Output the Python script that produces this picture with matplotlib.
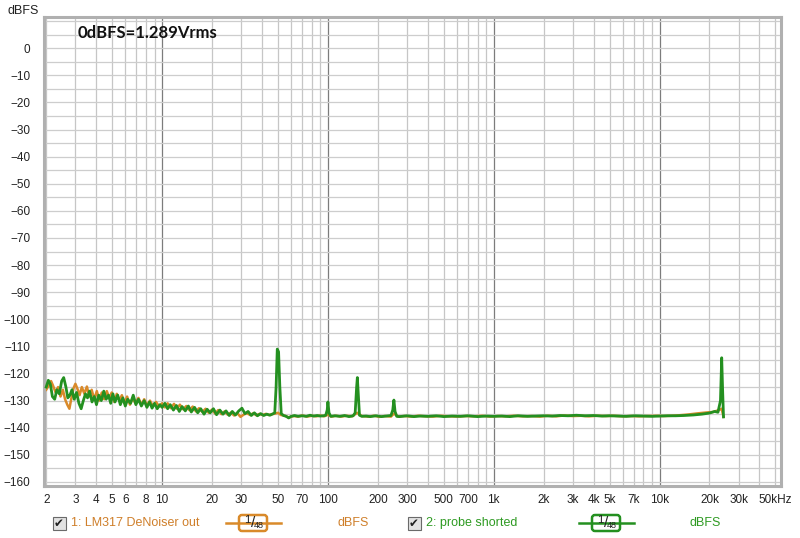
import matplotlib.pyplot as plt
import numpy as np
from matplotlib.patches import FancyBboxPatch, Rectangle
from matplotlib.ticker import NullLocator

plt.rcParams['font.family'] = ['Liberation Sans Narrow', 'Liberation Sans', 'DejaVu Sans']

# --- data: (Hz, dBFS) ---
green_pts = [
    (2.0, -125), (2.06, -122.5), (2.12, -124), (2.18, -128.5), (2.25, -129.5), (2.32, -126),
    (2.4, -127.5), (2.48, -122.8), (2.55, -121.5), (2.63, -125), (2.7, -129), (2.78, -128),
    (2.86, -126), (2.95, -129.5), (3.05, -127), (3.15, -131), (3.25, -133), (3.35, -130),
    (3.45, -127.5), (3.55, -129), (3.65, -126.5), (3.78, -130.5), (3.9, -128.5), (4.02, -131.5),
    (4.15, -128), (4.3, -130), (4.45, -126.5), (4.6, -129.5), (4.75, -128), (4.9, -131),
    (5.05, -127.5), (5.2, -130.5), (5.4, -128), (5.6, -131.5), (5.8, -129), (6.0, -132),
    (6.2, -129.5), (6.45, -131), (6.7, -128), (6.95, -131.5), (7.2, -129.5), (7.5, -132),
    (7.8, -130), (8.1, -132.5), (8.4, -130.5), (8.7, -132.8), (9.0, -131), (9.35, -133),
    (9.7, -131.5), (10, -132.5),
    (10.4, -131), (10.8, -133), (11.2, -131.5), (11.7, -133.5), (12.2, -131.8), (12.7, -134),
    (13.2, -132.2), (13.8, -133.8), (14.4, -132), (15, -134.2), (15.7, -132.5), (16.4, -134.5),
    (17.1, -133), (17.9, -135), (18.7, -133.2), (19.5, -134.5), (20.4, -133), (21.3, -135.2),
    (22.3, -133.5), (23.3, -135), (24.3, -133.8), (25.4, -135.5), (26.5, -134), (27.7, -135.3),
    (29, -133.8), (30.3, -132.8), (31.6, -134.8), (33, -134), (34.5, -135.5), (36, -134.5),
    (37.6, -135.6), (39.3, -134.8), (41, -135.5), (42.8, -135), (44.7, -135.4), (46.5, -134.9),
    (47.8, -134.5), (48.7, -125), (49.5, -111), (50.4, -112), (51.3, -125), (52.3, -134.8),
    (54, -135.5), (56, -135.8), (58, -136.4), (60, -135.8), (63, -135.5), (66, -135.8),
    (70, -135.6), (74, -135.8), (78, -135.4), (82, -135.7), (86, -135.5), (90, -135.7),
    (94, -135.6), (97, -135.4), (99, -133.5), (100, -130.5), (101.5, -134.5),
    (104, -135.8), (110, -135.6), (118, -135.8), (126, -135.5), (134, -135.9), (142, -135.6),
    (146, -134.5), (149, -125), (150.5, -121.5), (152, -126), (155, -135.4), (160, -135.8),
    (170, -135.7), (180, -135.9), (195, -135.6), (210, -135.9),
    (225, -135.7), (240, -135.5), (246, -133.5), (250, -129.8), (254, -134), (260, -135.8),
    (270, -135.9), (300, -135.6), (330, -135.9), (360, -135.7), (400, -135.8), (450, -135.6),
    (500, -135.9), (560, -135.7), (630, -135.8), (700, -135.6),
    (800, -135.9), (900, -135.7), (1000, -135.8), (1120, -135.7), (1250, -135.9),
    (1400, -135.6), (1600, -135.8), (1800, -135.7), (2000, -135.6), (2250, -135.7),
    (2500, -135.5), (2800, -135.6), (3150, -135.4), (3550, -135.6),
    (4000, -135.5), (4500, -135.7), (5000, -135.6), (5600, -135.7), (6300, -135.8),
    (7100, -135.6), (8000, -135.7), (9000, -135.8), (10000, -135.7), (11200, -135.6),
    (12500, -135.6), (14000, -135.5), (16000, -135.3),
    (18000, -135.0), (20000, -134.6), (21500, -134.0), (22500, -134.3), (23300, -130),
    (23700, -114.2), (24000, -126), (24300, -136),
]

orange_pts = [
    (2.0, -126), (2.07, -124.5), (2.14, -122.8), (2.2, -124.5), (2.28, -127), (2.36, -125),
    (2.44, -128.5), (2.52, -126), (2.6, -129.5), (2.68, -131.5), (2.76, -133), (2.84, -129),
    (2.92, -125.5), (3.0, -123.8), (3.08, -125.5), (3.18, -128), (3.28, -125), (3.4, -127.5),
    (3.52, -124.8), (3.64, -128.5), (3.76, -126), (3.9, -129.5), (4.04, -126.5), (4.18, -130),
    (4.33, -127), (4.48, -129.5), (4.64, -126.5), (4.8, -129), (4.97, -127), (5.15, -130.5),
    (5.33, -127.5), (5.52, -130), (5.72, -128), (5.93, -131), (6.15, -128.5), (6.4, -131.5),
    (6.65, -129), (6.9, -131), (7.2, -129), (7.5, -131.5), (7.8, -129.5), (8.1, -131.8),
    (8.45, -130), (8.8, -132), (9.2, -130.5), (9.6, -132.2), (10, -131),
    (10.4, -132.5), (10.8, -131), (11.3, -132.8), (11.8, -131.2), (12.3, -133), (12.8, -131.5),
    (13.4, -133.2), (14, -132), (14.6, -133.5), (15.3, -132.2), (16, -134), (16.7, -132.8),
    (17.5, -134.2), (18.3, -133), (19.1, -134.5), (20, -133.3), (20.9, -134.8), (21.8, -133.5),
    (22.8, -135), (23.8, -134), (24.9, -135.2), (26, -134.4), (27.2, -135.5), (28.4, -134.6),
    (29.7, -136), (31, -135.2), (32.4, -134.6), (33.9, -135.3), (35.4, -134.7), (37, -135.4),
    (38.7, -134.9), (40.4, -135.3), (42.2, -134.9), (44.1, -135.3), (46, -135), (48, -134.8),
    (50, -134.5), (52, -135.3), (55, -135.6), (58, -136.2), (62, -135.7),
    (66, -135.9), (70, -135.5), (75, -135.9), (80, -135.6), (85, -135.8), (90, -135.5),
    (95, -135.8), (100, -135.2), (105, -135.9), (112, -135.6), (120, -135.9), (130, -135.6),
    (140, -135.8), (150, -134.5), (160, -135.7), (175, -135.9), (190, -135.6), (205, -136),
    (220, -135.7), (240, -135.9), (250, -134.8), (265, -135.9), (290, -135.7), (320, -135.9),
    (350, -135.6), (390, -135.8), (430, -135.9), (480, -135.6), (540, -135.8), (600, -135.9),
    (680, -135.7), (760, -135.8), (850, -135.6), (950, -135.9),
    (1060, -135.7), (1180, -135.8), (1320, -135.6), (1500, -135.8), (1700, -135.7),
    (1900, -135.9), (2120, -135.6), (2380, -135.8), (2650, -135.5), (3000, -135.7),
    (3350, -135.6), (3750, -135.8), (4200, -135.6), (4750, -135.7),
    (5300, -135.6), (6000, -135.8), (6700, -135.7), (7500, -135.8), (8500, -135.7),
    (9500, -135.6), (10600, -135.7), (11800, -135.6), (13200, -135.4), (15000, -135.1),
    (17000, -134.7), (19000, -134.4), (21000, -134.2),
    (22800, -133.5), (23700, -133), (24300, -136),
]
green_f, green_db = zip(*green_pts)
orange_f, orange_db = zip(*orange_pts)

xticks = [2, 3, 4, 5, 6, 8, 10, 20, 30, 50, 70, 100, 200, 300, 500, 700, 1000, 2000, 3000,
          4000, 5000, 7000, 10000, 20000, 30000, 50000]
xlabels = ['2', '3', '4', '5', '6', '8', '10', '20', '30', '50', '70', '100', '200', '300',
           '500', '700', '1k', '2k', '3k', '4k', '5k', '7k', '10k', '20k', '30k', '50kHz']
yticks = list(range(0, -161, -10))

ORANGE = '#d98a2a'
GREEN = '#249020'
ORANGE_TXT = '#cf7f2a'
GREEN_TXT = '#2e9a22'

fig = plt.figure(figsize=(8, 5.38), dpi=100)
ax = fig.add_axes([44 / 800, 52 / 538, 737 / 800, 469 / 538])
ax.set_xscale('log')
ax.set_xlim(1.94, 54000)
ax.set_ylim(-161.5, 11.5)

# grid
for dec in [1, 10, 100, 1000, 10000]:
    for m in range(1, 10):
        f = dec * m
        if f < 2 or f > 50000:
            continue
        if m == 1:
            ax.axvline(f, color='#7c7c7c', lw=0.9, zorder=0)
        else:
            ax.axvline(f, color='#c6c6c6', lw=0.9, zorder=0)
for v in range(-160, 11, 5):
    ax.axhline(v, color='#cdcdcd', lw=0.9, zorder=0)

ax.plot(orange_f, orange_db, color=ORANGE, lw=1.8, zorder=2)
ax.plot(green_f, green_db, color=GREEN, lw=2.0, zorder=3)

ax.xaxis.set_minor_locator(NullLocator())
ax.set_xticks(xticks)
ax.set_xticklabels(xlabels)
ax.set_yticks(yticks)
ax.tick_params(length=0, labelsize=8.5, colors='#222222', pad=10)
ax.tick_params(axis='x', pad=6)
for sp in ax.spines.values():
    sp.set_color('#b0b0b0')
    sp.set_linewidth(2.2)

ax.text(0.045, 0.966, '0dBFS=1.289Vrms', transform=ax.transAxes, fontsize=12,
        fontweight='bold', family=['Lato', 'DejaVu Sans'], color='#111111', va='center')
fig.text(8 / 800, 1 - 11 / 538, 'dBFS', fontsize=9, color='#222222', va='center')

# legend row drawn in pixel coordinates
lg = fig.add_axes([0, 0, 1, 1], zorder=-1)
lg.set_xlim(0, 800)
lg.set_ylim(538, 0)
lg.axis('off')
ly = 523


def item(xc, cx, label, lx, col, tcol):
    lg.add_patch(Rectangle((xc - 6.5, ly - 6.5), 13, 13, facecolor='#e2e2e2', edgecolor='#6a6a6a', lw=0.8))
    lg.text(xc, ly, '\u2714', fontsize=8.5, ha='center', va='center', family='DejaVu Sans', color='#202020')
    lg.text(xc + 12, ly, label, fontsize=9, va='center', color=tcol)
    lg.plot([cx - 27, cx + 28], [ly, ly], color=col, lw=1.8)
    lg.add_patch(FancyBboxPatch((cx - 14, ly - 8), 28, 16, boxstyle='round,pad=0,rounding_size=3',
                                facecolor='white', edgecolor=col, lw=1.8))
    lg.text(cx - 6, ly - 3, '1', fontsize=8, ha='center', va='center', color='#222222')
    lg.text(cx, ly, '/', fontsize=11, ha='center', va='center', color='#222222')
    lg.text(cx + 6, ly + 3, '48', fontsize=6.5, ha='center', va='center', color='#222222')
    lg.text(lx, ly, 'dBFS', fontsize=9, va='center', color=tcol)


item(59, 253, '1: LM317 DeNoiser out', 338, ORANGE, ORANGE_TXT)
item(414, 606, '2: probe shorted', 690, GREEN, GREEN_TXT)

fig.savefig('out.png', dpi=100)
